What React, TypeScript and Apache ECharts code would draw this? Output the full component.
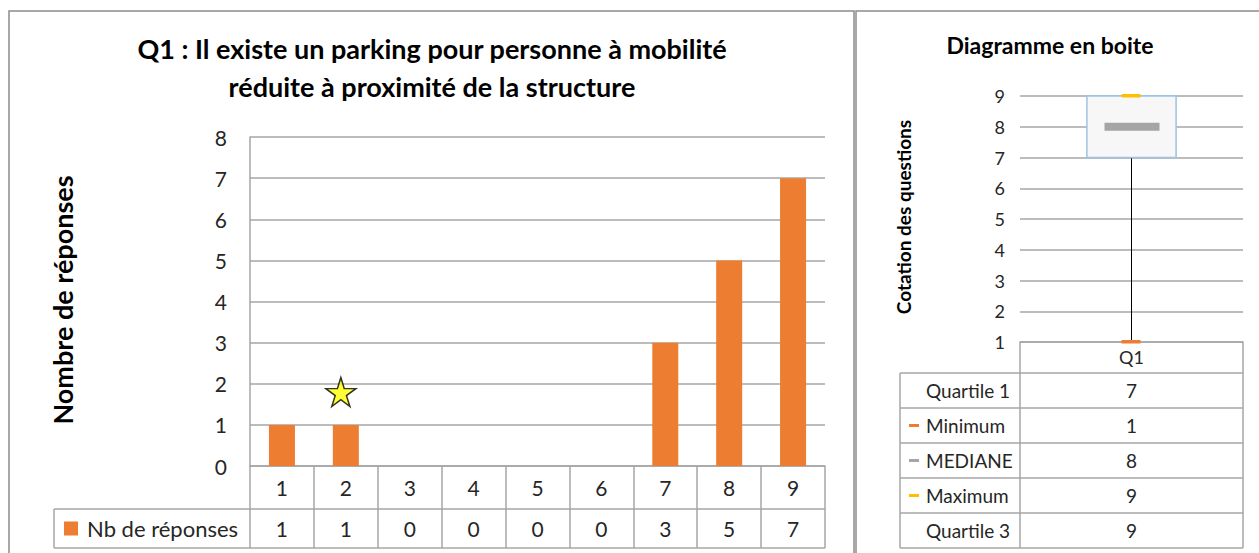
import React, { useEffect, useRef } from "react";
import * as echarts from "echarts";

const categories = ["1", "2", "3", "4", "5", "6", "7", "8", "9"];
const responses = [1, 1, 0, 0, 0, 0, 3, 5, 7];
const seriesName = "Nb de réponses";
const starPoint = [[1, 1.8]];
const boxCategories = ["Q1"];
const statLabels = ["Quartile 1", "Minimum", "MEDIANE", "Maximum", "Quartile 3"];
const statValues = [7, 1, 8, 9, 9];
const statColors = ["", "#ED7D31", "#A5A5A5", "#FFC000", ""];

const FONT = 'Lato, "Open Sans", "Noto Sans", sans-serif';
const LINE = "#A6A6A6";
const TXT = "#262626";

export default function App() {
  const ref = useRef<HTMLDivElement>(null);
  useEffect(() => {
    if (!ref.current) return;
    const chart = echarts.init(ref.current, null, { renderer: "svg" });
    const g0 = { left: 250, top: 137, width: 575, height: 329 };
    const g1 = { left: 1020, top: 96, width: 223, height: 246 };
    const stat = (name: string) => statValues[statLabels.indexOf(name)];
    const boxData = [[0, stat("Minimum"), stat("Quartile 1"), stat("MEDIANE"), stat("Quartile 3"), stat("Maximum")]];

    const graphic: any[] = [];
    graphic.push({ type: "rect", shape: { x: 9, y: 11, width: 845, height: 620 }, style: { fill: "none", stroke: "#8C8C8C", lineWidth: 1.5 }, silent: true });
    graphic.push({ type: "rect", shape: { x: 856, y: 11, width: 420, height: 620 }, style: { fill: "none", stroke: "#8C8C8C", lineWidth: 1.5 }, silent: true });
    graphic.push({ type: "text", x: 432, y: 48, style: { text: "Q1 : Il existe un parking pour personne à mobilité", font: `bold 27px ${FONT}`, fill: "#000", textAlign: "center", textVerticalAlign: "middle" } });
    graphic.push({ type: "text", x: 432, y: 86, style: { text: "réduite à proximité de la structure", font: `bold 27px ${FONT}`, fill: "#000", textAlign: "center", textVerticalAlign: "middle" } });
    graphic.push({ type: "text", x: 1050, y: 45, style: { text: "Diagramme en boite", font: `bold 23px ${FONT}`, fill: "#000", textAlign: "center", textVerticalAlign: "middle" } });
    graphic.push({ type: "text", x: 62, y: 300, rotation: Math.PI / 2, style: { text: "Nombre de réponses", font: `bold 27px ${FONT}`, fill: "#000", textAlign: "center", textVerticalAlign: "middle" } });
    graphic.push({ type: "text", x: 903, y: 217, rotation: Math.PI / 2, style: { text: "Cotation des questions", font: `bold 19px ${FONT}`, fill: "#000", textAlign: "center", textVerticalAlign: "middle" } });

    const tTop = g0.top + g0.height;
    const r1 = tTop + 43;
    const r2 = r1 + 39;
    const tLeft = 54;
    const tRight = g0.left + g0.width;
    [r1, r2].forEach((y) => graphic.push({ type: "line", shape: { x1: tLeft, y1: y, x2: tRight, y2: y }, style: { stroke: LINE, lineWidth: 1.5 }, silent: true }));
    graphic.push({ type: "line", shape: { x1: tLeft, y1: r1, x2: tLeft, y2: r2 }, style: { stroke: LINE, lineWidth: 1.5 }, silent: true });
    graphic.push({ type: "rect", shape: { x: 64, y: (r1 + r2) / 2 - 7, width: 14, height: 14 }, style: { fill: "#ED7D31" } });
    graphic.push({ type: "text", x: 87, y: (r1 + r2) / 2, style: { text: seriesName, font: `22px ${FONT}`, fill: TXT, textAlign: "left", textVerticalAlign: "middle" } });

    const sTop = g1.top + g1.height + 31;
    const rowH = 35;
    const sLeft = 900;
    const sRight = g1.left + g1.width;
    const cx = g1.left + g1.width / 2;
    for (let i = 0; i <= statLabels.length; i++) {
      const y = sTop + rowH * i;
      graphic.push({ type: "line", shape: { x1: sLeft, y1: y, x2: sRight, y2: y }, style: { stroke: LINE, lineWidth: 1.5 }, silent: true });
    }
    graphic.push({ type: "line", shape: { x1: sLeft, y1: sTop, x2: sLeft, y2: sTop + rowH * statLabels.length }, style: { stroke: LINE, lineWidth: 1.5 }, silent: true });
    statLabels.forEach((lab, i) => {
      const yc = sTop + rowH * i + rowH / 2;
      if (statColors[i]) {
        graphic.push({ type: "rect", shape: { x: 909, y: yc - 1.5, width: 10, height: 3 }, style: { fill: statColors[i] } });
      }
      graphic.push({ type: "text", x: 926, y: yc, style: { text: lab, font: `19px ${FONT}`, fill: TXT, textAlign: "left", textVerticalAlign: "middle" } });
      graphic.push({ type: "text", x: cx, y: yc, style: { text: String(statValues[i]), font: `19px ${FONT}`, fill: TXT, textAlign: "center", textVerticalAlign: "middle" } });
    });

    const starPath = "path://M50,0 L61,35 L98,35 L68,57 L79,91 L50,70 L21,91 L32,57 L2,35 L39,35 Z";

    chart.setOption({
      animation: false,
      backgroundColor: "#fff",
      textStyle: { fontFamily: FONT },
      grid: [
        { ...g0, containLabel: false },
        { ...g1, containLabel: false },
      ],
      xAxis: [
        {
          gridIndex: 0, type: "category", data: categories,
          axisLine: { lineStyle: { color: LINE, width: 1.5 } },
          axisTick: { show: true, interval: 0, length: 82, lineStyle: { color: LINE, width: 1.5 } },
          axisLabel: { fontSize: 21, color: TXT, margin: 11, fontFamily: FONT },
        },
        {
          gridIndex: 0, type: "category", data: responses.map(String), position: "bottom", offset: 43,
          axisLine: { show: false }, axisTick: { show: false },
          axisLabel: { fontSize: 21, color: TXT, margin: 9, fontFamily: FONT },
        },
        {
          gridIndex: 1, type: "category", data: boxCategories,
          axisLine: { lineStyle: { color: LINE, width: 1.5 } },
          axisTick: { show: true, interval: 0, length: 206, lineStyle: { color: LINE, width: 1.5 } },
          axisLabel: { fontSize: 18, color: TXT, margin: 6, fontFamily: FONT },
        },
      ],
      yAxis: [
        {
          gridIndex: 0, type: "value", min: 0, max: 8, interval: 1,
          axisLine: { show: true, lineStyle: { color: LINE, width: 1.5 } },
          axisTick: { show: false },
          splitLine: { lineStyle: { color: LINE, width: 1.5 } },
          axisLabel: { fontSize: 21, color: TXT, margin: 23, fontFamily: FONT },
        },
        {
          gridIndex: 1, type: "value", min: 1, max: 9, interval: 1,
          axisLine: { show: false }, axisTick: { show: false },
          splitLine: { lineStyle: { color: LINE, width: 1.5 } },
          axisLabel: { fontSize: 18, color: TXT, margin: 15, fontFamily: FONT },
        },
      ],
      series: [
        {
          type: "bar", name: seriesName, xAxisIndex: 0, yAxisIndex: 0, data: responses,
          barWidth: 26, itemStyle: { color: "#ED7D31" },
        },
        {
          type: "scatter", xAxisIndex: 0, yAxisIndex: 0, data: starPoint,
          symbol: starPath, symbolSize: [30, 29], symbolOffset: [-5, 0],
          itemStyle: { color: "#FFFF00", borderColor: "#000", borderWidth: 1.5 },
          z: 10,
        },
        {
          type: "custom", xAxisIndex: 2, yAxisIndex: 1, data: boxData,
          renderItem: (params: any, api: any) => {
            const xi = api.value(0);
            const pMin = api.coord([xi, api.value(1)]);
            const pQ1 = api.coord([xi, api.value(2)]);
            const pMed = api.coord([xi, api.value(3)]);
            const pQ3 = api.coord([xi, api.value(4)]);
            const pMax = api.coord([xi, api.value(5)]);
            const band = api.size([1, 0])[0];
            const bw = band * 0.4;
            const x = pQ1[0];
            return {
              type: "group",
              children: [
                { type: "line", shape: { x1: x, y1: pQ1[1], x2: x, y2: pMin[1] }, style: { stroke: "#000", lineWidth: 1 } },
                { type: "line", shape: { x1: x, y1: pQ3[1], x2: x, y2: pMax[1] }, style: { stroke: "#000", lineWidth: 1 } },
                { type: "rect", shape: { x: x - bw / 2, y: pQ3[1], width: bw, height: pQ1[1] - pQ3[1] }, style: { fill: "#F7F7F7", stroke: "#9DC3E6", lineWidth: 1.5 } },
                { type: "rect", shape: { x: x - 27, y: pMed[1] - 4, width: 55, height: 8 }, style: { fill: "#A5A5A5" } },
                { type: "rect", shape: { x: x - 10, y: pMax[1] - 2, width: 19, height: 3.5 }, style: { fill: "#FFC000" } },
                { type: "rect", shape: { x: x - 10, y: pMin[1] - 2, width: 19, height: 3.5 }, style: { fill: "#ED7D31" } },
              ],
            };
          },
        },
      ],
      graphic,
    });
    return () => chart.dispose();
  }, []);
  return <div ref={ref} style={{ position: "absolute", left: 0, top: 0, width: 1259, height: 553, background: "#fff" }} />;
}
